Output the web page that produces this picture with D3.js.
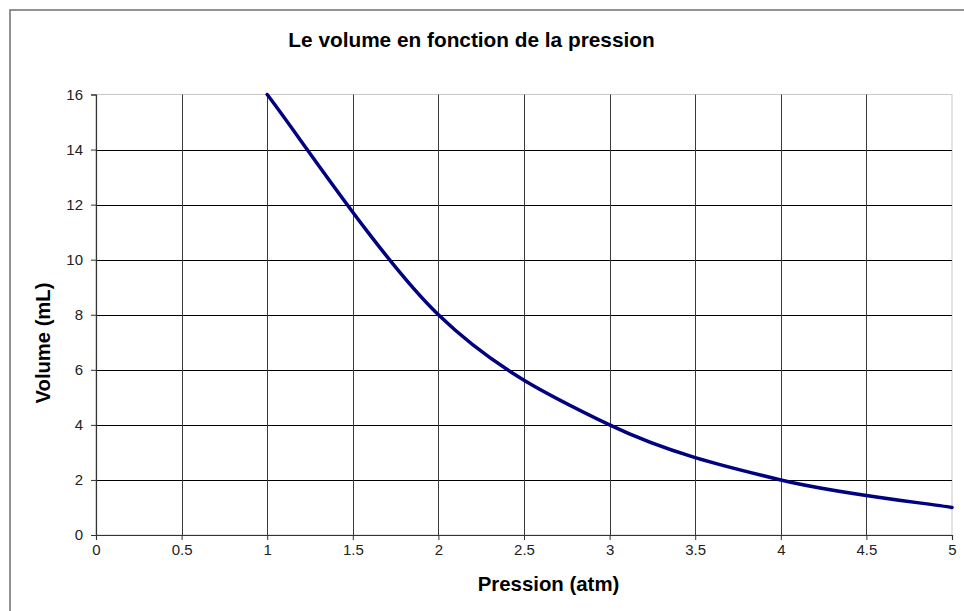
<!DOCTYPE html>
<html>
<head>
<meta charset="utf-8">
<script src="https://cdn.jsdelivr.net/npm/d3@7"></script>
<style>
  body { margin: 0; background: #fff; }
  svg { display: block; font-family: "Liberation Sans", Arial, sans-serif; }
</style>
</head>
<body>
<svg id="chart" width="964" height="611"></svg>
<script>
// data
const pression = [1, 2, 3, 4, 5];
const volume = [16, 8, 4, 2, 1];
const xTicks = [0, 0.5, 1, 1.5, 2, 2.5, 3, 3.5, 4, 4.5, 5];
const yTicks = [0, 2, 4, 6, 8, 10, 12, 14, 16];

const svg = d3.select('#chart');

// plot area
const plotLeft = 96, plotRight = 952, plotTop = 94.5, plotBottom = 535;

const x = d3.scaleLinear().domain([0, 5]).range([plotLeft, plotRight]);
const y = d3.scaleLinear().domain([0, 16]).range([plotBottom, plotTop]);

// outer chart border (runs off the picture on the right and bottom)
svg.append('rect')
    .attr('x', 10).attr('y', 10)
    .attr('width', 1000).attr('height', 1000)
    .attr('fill', '#fff')
    .attr('stroke', '#777')
    .attr('stroke-width', 1.6);

// plot border, light grey
svg.append('rect')
    .attr('x', plotLeft).attr('y', plotTop)
    .attr('width', plotRight - plotLeft).attr('height', plotBottom - plotTop)
    .attr('fill', '#fff')
    .attr('stroke', '#c8c8c8')
    .attr('stroke-width', 1);

// gridlines (not on the max values)
svg.append('g')
    .selectAll('line')
    .data(yTicks.filter(d => d > 0 && d < 16))
    .enter()
    .append('line')
    .attr('x1', plotLeft).attr('x2', plotRight)
    .attr('y1', d => Math.round(y(d)) + 0.5)
    .attr('y2', d => Math.round(y(d)) + 0.5)
    .attr('stroke', '#000');

svg.append('g')
    .selectAll('line')
    .data(xTicks.filter(d => d > 0 && d < 5))
    .enter()
    .append('line')
    .attr('y1', plotTop).attr('y2', plotBottom)
    .attr('x1', d => Math.round(x(d)) + 0.5)
    .attr('x2', d => Math.round(x(d)) + 0.5)
    .attr('stroke', '#3a3a3a');

// axes
const xAxis = d3.axisBottom(x)
    .tickValues(xTicks)
    .tickSize(5)
    .tickPadding(4)
    .tickFormat(d3.format('~g'));
const yAxis = d3.axisLeft(y)
    .tickValues(yTicks)
    .tickSize(5)
    .tickPadding(8)
    .tickFormat(d3.format('~g'));

const gx = svg.append('g')
    .attr('transform', 'translate(0,' + plotBottom + ')')
    .call(xAxis);
const gy = svg.append('g')
    .attr('transform', 'translate(' + plotLeft + ',0)')
    .call(yAxis);

[gx, gy].forEach(g => {
    g.select('.domain').attr('stroke', '#333').attr('stroke-width', 1.2);
    g.selectAll('.tick line').attr('stroke', '#333');
    g.selectAll('.tick text')
        .attr('fill', '#222')
        .style('font-size', '15px')
        .style('font-family', '"Liberation Sans", Arial, sans-serif');
});

// smoothing like the spreadsheet's "smoothed line"
const excelSmooth = (context) => {
    let pts = [];
    return {
        areaStart() {}, areaEnd() {},
        lineStart() { pts = []; },
        point(px, py) { pts.push([+px, +py]); },
        lineEnd() {
            const n = pts.length;
            if (!n) return;
            context.moveTo(pts[0][0], pts[0][1]);
            for (let i = 0; i < n - 1; i++) {
                const p0 = pts[Math.max(i - 1, 0)], p1 = pts[i], p2 = pts[i + 1], p3 = pts[Math.min(i + 2, n - 1)];
                context.bezierCurveTo(
                    p1[0] + (p2[0] - p0[0]) / 6, p1[1] + (p2[1] - p0[1]) / 6,
                    p2[0] - (p3[0] - p1[0]) / 6, p2[1] - (p3[1] - p1[1]) / 6,
                    p2[0], p2[1]);
            }
        }
    };
};

const line = d3.line()
    .x(d => x(d[0]))
    .y(d => y(d[1]))
    .curve(excelSmooth);

svg.append('path')
    .datum(d3.zip(pression, volume))
    .attr('d', line)
    .attr('fill', 'none')
    .attr('stroke', '#000080')
    .attr('stroke-width', 3.5)
    .attr('stroke-linecap', 'round');

// titles
svg.append('text')
    .attr('x', 471.5).attr('y', 47)
    .attr('text-anchor', 'middle')
    .style('font-size', '20.8px')
    .style('font-weight', 'bold')
    .text('Le volume en fonction de la pression');

svg.append('text')
    .attr('x', 548.5).attr('y', 591)
    .attr('text-anchor', 'middle')
    .style('font-size', '20.4px')
    .style('font-weight', 'bold')
    .text('Pression (atm)');

svg.append('text')
    .attr('transform', 'translate(50,343) rotate(-90)')
    .attr('text-anchor', 'middle')
    .style('font-size', '20.2px')
    .style('font-weight', 'bold')
    .text('Volume (mL)');
</script>
</body>
</html>
